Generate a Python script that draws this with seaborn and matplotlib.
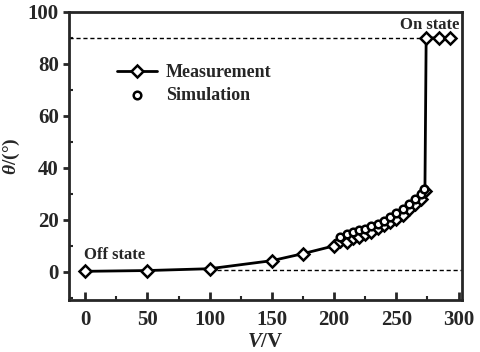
import matplotlib
matplotlib.use("Agg")
import matplotlib.pyplot as plt
from matplotlib.ticker import MultipleLocator
import pandas as pd
import seaborn as sns

# measured tilt angle vs voltage
meas_v = [0, 50, 100, 150, 175, 200, 205, 210, 215, 220, 225, 230, 235, 240,
          245, 250, 255, 260, 265, 270, 273, 274, 284, 293]
meas_theta = [0.2, 0.5, 1.2, 4.3, 7.0, 10.0, 12.0, 11.5, 13.0, 13.5, 14.5, 15.5,
              17.0, 18.0, 19.0, 20.5, 22.0, 24.0, 26.0, 28.0, 31.0, 90.0, 90.0, 90.0]

# simulated tilt angle
sim_v = [205, 210, 215, 220, 225, 230, 235, 240, 245, 250, 255, 260, 265, 270, 272]
sim_theta = [13.5, 14.5, 15.5, 16.0, 16.5, 17.5, 18.5, 19.5, 21.0, 22.5, 24.0,
             26.0, 28.0, 30.0, 32.0]

sns.set_style("ticks")
plt.rcParams['font.family'] = ['Liberation Serif', 'DejaVu Serif']
plt.rcParams['font.weight'] = 'bold'
plt.rcParams['mathtext.fontset'] = 'custom'
plt.rcParams['mathtext.it'] = 'Liberation Serif:italic:bold'
plt.rcParams['mathtext.rm'] = 'Liberation Serif:bold'

df_meas = pd.DataFrame({'V': meas_v, 'theta': meas_theta})
df_sim = pd.DataFrame({'V': sim_v, 'theta': sim_theta})

fig = plt.figure(figsize=(4.8, 3.52), dpi=100)
ax = fig.add_axes([0.144, 0.148, 0.819, 0.818])

# reference levels
ax.plot([-13, 272], [90, 90], color='black', lw=1, ls=(0, (3, 2)))
ax.plot([100, 303], [0.8, 0.8], color='black', lw=1, ls=(0, (3, 2)))

sns.lineplot(data=df_meas, x='V', y='theta', sort=False, estimator=None,
             color='black', lw=2, marker='D', markersize=6,
             markerfacecolor='white', markeredgecolor='black', markeredgewidth=1.8,
             label='Measurement', ax=ax)
sns.scatterplot(data=df_sim, x='V', y='theta', marker='o', s=30,
                facecolor='white', edgecolor='black', linewidth=1.8,
                label='Simulation', ax=ax, zorder=3)

ax.set_xlim(-13, 303)
ax.set_ylim(-10.8, 100)
ax.xaxis.set_major_locator(MultipleLocator(50))
ax.xaxis.set_minor_locator(MultipleLocator(25))
ax.yaxis.set_major_locator(MultipleLocator(20))
ax.yaxis.set_minor_locator(MultipleLocator(10))
ax.tick_params(axis='x', which='both', direction='in', labelsize=15, pad=7)
ax.tick_params(axis='x', which='major', length=6, width=2)
ax.tick_params(axis='x', which='minor', length=3, width=1.5)
ax.tick_params(axis='y', which='major', direction='out', length=4, width=2, labelsize=15)
ax.tick_params(axis='y', which='minor', direction='in', length=3, width=1.5)
for s in ax.spines.values():
    s.set_visible(True)
    s.set_linewidth(2)

ax.set_xlabel(r"$V$/V", fontsize=15, fontweight='bold', labelpad=2)
ax.set_ylabel(r"$\theta$/(°)", fontsize=14, fontweight='bold', labelpad=4)

ax.text(-1, 3.5, "Off state", fontsize=12, fontweight='bold', ha='left', va='bottom')
ax.text(301, 92, "On state", fontsize=12, fontweight='bold', ha='right', va='bottom')

leg = ax.legend(loc='upper left', bbox_to_anchor=(0.08, 0.875), frameon=False,
                fontsize=13, handlelength=2.2, handletextpad=0.5, labelspacing=0.3)

fig.savefig("out.png", dpi=100)
